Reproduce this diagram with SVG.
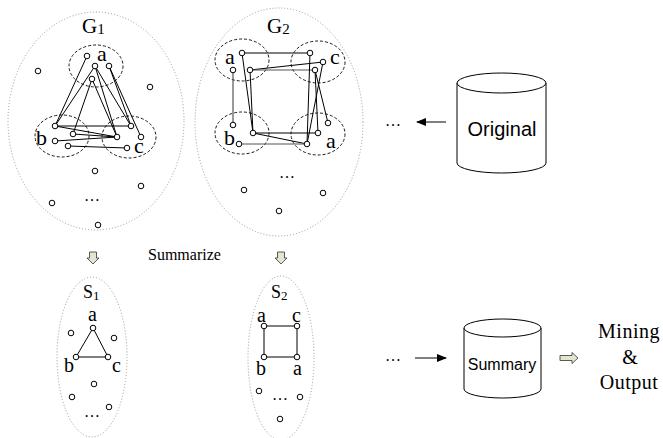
<svg xmlns="http://www.w3.org/2000/svg" width="663" height="438" viewBox="0 0 663 438">
<defs>
<style>
.dot{fill:none;stroke:#999;stroke-width:1;stroke-dasharray:1,2}
.dash{fill:none;stroke:#000;stroke-width:0.9;stroke-dasharray:3,2}
.n{fill:#fff;stroke:#000;stroke-width:1}
.e{stroke:#000;stroke-width:1;fill:none}
.eg{stroke:#555;stroke-width:1.2;fill:none}
.t{font-family:"Liberation Serif","Times New Roman",serif;fill:#000}
.s{font-family:"Liberation Sans",Arial,sans-serif;fill:#000}
.cyl{fill:#fff;stroke:#000;stroke-width:1}
.hol{fill:#e2e6d0;stroke:#333;stroke-width:0.8}
</style>
<marker id="ah" markerWidth="10" markerHeight="8" refX="9" refY="4" orient="auto" markerUnits="userSpaceOnUse">
<path d="M0,0 L10,4 L0,8 Z" fill="#000"/>
</marker>
</defs>
<rect width="663" height="438" fill="#fff"/>

<g id="G1">
<ellipse class="dot" cx="96" cy="121" rx="88" ry="109"/>
<text class="t" x="82" y="33" font-size="21">G<tspan font-size="15" dy="1">1</tspan></text>
<ellipse class="dash" cx="96" cy="66" rx="27" ry="21"/>
<ellipse class="dash" cx="62" cy="136" rx="27" ry="21"/>
<ellipse class="dash" cx="129" cy="137" rx="27" ry="21"/>
<text class="t" x="97" y="61" font-size="22">a</text>
<text class="t" x="36" y="145" font-size="22">b</text>
<text class="t" x="134" y="153" font-size="22">c</text>
<g>
<line class="e" x1="87" y1="56" x2="55" y2="126"/>
<line class="e" x1="95" y1="66" x2="55" y2="126"/>
<line class="e" x1="95" y1="66" x2="131" y2="126"/>
<line class="e" x1="95" y1="66" x2="117" y2="137"/>
<line class="e" x1="109" y1="66" x2="131" y2="126"/>
<line class="e" x1="109" y1="66" x2="141" y2="137"/>
<line class="e" x1="92" y1="79" x2="73" y2="134"/>
<line class="e" x1="92" y1="79" x2="117" y2="137"/>
<line class="e" x1="55" y1="126" x2="131" y2="126"/>
<line class="e" x1="55" y1="126" x2="117" y2="137"/>
<line class="e" x1="73" y1="134" x2="117" y2="137"/>
<line class="e" x1="55" y1="141" x2="117" y2="137"/>
<line class="e" x1="68" y1="146" x2="127" y2="148"/>
</g>
<circle class="n" cx="87" cy="56" r="2.8"/>
<circle class="n" cx="95" cy="66" r="2.8"/>
<circle class="n" cx="109" cy="66" r="2.8"/>
<circle class="n" cx="92" cy="79" r="2.8"/>
<circle class="n" cx="55" cy="126" r="2.8"/>
<circle class="n" cx="131" cy="126" r="2.8"/>
<circle class="n" cx="73" cy="134" r="2.8"/>
<circle class="n" cx="117" cy="137" r="2.8"/>
<circle class="n" cx="141" cy="137" r="2.8"/>
<circle class="n" cx="55" cy="141" r="2.8"/>
<circle class="n" cx="68" cy="146" r="2.8"/>
<circle class="n" cx="127" cy="148" r="2.8"/>
<circle class="n" cx="38" cy="71" r="2.8"/>
<circle class="n" cx="150" cy="87" r="2.8"/>
<circle class="n" cx="95" cy="171" r="2.8"/>
<circle class="n" cx="141" cy="186" r="2.8"/>
<circle class="n" cx="52" cy="203" r="2.8"/>
<circle class="n" cx="98" cy="225" r="2.8"/>
<text class="t" x="92" y="201" font-size="16" text-anchor="middle">…</text>
</g>

<g id="G2">
<ellipse class="dot" cx="279" cy="122" rx="84" ry="114"/>
<text class="t" x="267" y="33" font-size="21">G<tspan font-size="15" dy="1">2</tspan></text>
<ellipse class="dash" cx="242" cy="60" rx="27" ry="21"/>
<ellipse class="dash" cx="318" cy="62" rx="27" ry="21"/>
<ellipse class="dash" cx="242" cy="133" rx="27" ry="21"/>
<ellipse class="dash" cx="318" cy="134" rx="27" ry="21"/>
<text class="t" x="225" y="64" font-size="22">a</text>
<text class="t" x="330" y="64" font-size="22">c</text>
<text class="t" x="224" y="145" font-size="22">b</text>
<text class="t" x="326" y="148" font-size="22">a</text>
<g>
<line class="e" x1="242" y1="53" x2="310" y2="53"/>
<line class="e" x1="242" y1="53" x2="253" y2="133"/>
<line class="eg" x1="233" y1="70" x2="233" y2="125"/>
<line class="e" x1="250" y1="70" x2="323" y2="62"/>
<line class="eg" x1="250" y1="70" x2="315" y2="70"/>
<line class="e" x1="250" y1="70" x2="253" y2="133"/>
<line class="e" x1="310" y1="53" x2="307" y2="144"/>
<line class="e" x1="323" y1="62" x2="307" y2="144"/>
<line class="e" x1="315" y1="70" x2="318" y2="133"/>
<line class="e" x1="315" y1="70" x2="328" y2="123"/>
<line class="e" x1="253" y1="133" x2="318" y2="133"/>
<line class="e" x1="253" y1="133" x2="307" y2="144"/>
<line class="eg" x1="239" y1="144" x2="307" y2="144"/>
</g>
<circle class="n" cx="242" cy="53" r="2.8"/>
<circle class="n" cx="233" cy="70" r="2.8"/>
<circle class="n" cx="250" cy="70" r="2.8"/>
<circle class="n" cx="310" cy="53" r="2.8"/>
<circle class="n" cx="323" cy="62" r="2.8"/>
<circle class="n" cx="315" cy="70" r="2.8"/>
<circle class="n" cx="233" cy="125" r="2.8"/>
<circle class="n" cx="253" cy="133" r="2.8"/>
<circle class="n" cx="239" cy="144" r="2.8"/>
<circle class="n" cx="328" cy="123" r="2.8"/>
<circle class="n" cx="318" cy="133" r="2.8"/>
<circle class="n" cx="307" cy="144" r="2.8"/>
<circle class="n" cx="244" cy="190" r="2.8"/>
<circle class="n" cx="323" cy="193" r="2.8"/>
<circle class="n" cx="279" cy="211" r="2.8"/>
<text class="t" x="287" y="178" font-size="16" text-anchor="middle">…</text>
</g>

<g id="S1">
<ellipse class="dot" cx="92" cy="357" rx="35" ry="80"/>
<text class="t" x="83" y="298" font-size="18">S<tspan font-size="13" dy="2">1</tspan></text>
<text class="t" x="88" y="321" font-size="20">a</text>
<text class="t" x="64" y="372" font-size="20">b</text>
<text class="t" x="112" y="372" font-size="20">c</text>
<path class="e" d="M93,328 L76,357 L108,357 Z"/>
<circle class="n" cx="93" cy="328" r="2.8"/>
<circle class="n" cx="76" cy="357" r="2.8"/>
<circle class="n" cx="108" cy="357" r="2.8"/>
<circle class="n" cx="71" cy="333" r="2.8"/>
<circle class="n" cx="114" cy="338" r="2.8"/>
<circle class="n" cx="94" cy="384" r="2.8"/>
<circle class="n" cx="72" cy="397" r="2.8"/>
<circle class="n" cx="109" cy="407" r="2.8"/>
<text class="t" x="92" y="417" font-size="16" text-anchor="middle">…</text>
</g>

<g id="S2">
<ellipse class="dot" cx="281" cy="358" rx="33" ry="82"/>
<text class="t" x="271" y="298" font-size="18">S<tspan font-size="13" dy="2">2</tspan></text>
<text class="t" x="257" y="322" font-size="20">a</text>
<text class="t" x="292" y="322" font-size="20">c</text>
<text class="t" x="256" y="375" font-size="20">b</text>
<text class="t" x="293" y="375" font-size="20">a</text>
<rect class="e" x="264" y="326" width="33" height="31"/>
<circle class="n" cx="264" cy="326" r="2.8"/>
<circle class="n" cx="297" cy="326" r="2.8"/>
<circle class="n" cx="264" cy="357" r="2.8"/>
<circle class="n" cx="297" cy="357" r="2.8"/>
<circle class="n" cx="259" cy="391" r="2.8"/>
<circle class="n" cx="300" cy="397" r="2.8"/>
<circle class="n" cx="280" cy="419" r="2.8"/>
<text class="t" x="280" y="400" font-size="16" text-anchor="middle">…</text>
</g>

<g id="original">
<path class="cyl" d="M457,83 V163 A44.5,10 0 0 0 546,163 V83"/>
<ellipse class="cyl" cx="501.5" cy="83" rx="44.5" ry="10"/>
<text class="s" x="502" y="136" font-size="20" text-anchor="middle">Original</text>
</g>

<g id="summary">
<path class="cyl" d="M464,328 V389 A38.5,9 0 0 0 541,389 V328"/>
<ellipse class="cyl" cx="502.5" cy="328" rx="38.5" ry="9"/>
<text class="s" x="502" y="370" font-size="16" text-anchor="middle">Summary</text>
</g>

<g id="mining">
<text class="t" x="629" y="338" font-size="20" text-anchor="middle" letter-spacing="0.5">Mining</text>
<text class="t" x="630" y="364" font-size="20" text-anchor="middle">&amp;</text>
<text class="t" x="629" y="389" font-size="20" text-anchor="middle" letter-spacing="0.5">Output</text>
</g>

<g id="connectors">
<path class="hol" d="M89.5,252 H96.5 V258 H99 L93,264 L87,258 H89.5 Z"/>
<path class="hol" d="M277.5,252 H284.5 V258 H287 L281,264 L275,258 H277.5 Z"/>
<text class="t" x="148" y="260" font-size="16">Summarize</text>
<text class="t" x="393" y="126" font-size="16" text-anchor="middle">…</text>
<line class="e" x1="446" y1="122" x2="417" y2="122" marker-end="url(#ah)"/>
<text class="t" x="393" y="361" font-size="16" text-anchor="middle">…</text>
<line class="e" x1="415" y1="358" x2="446" y2="358" marker-end="url(#ah)"/>
<path class="hol" d="M560,355.5 H572 V352.5 L578,358 L572,363.5 V360.5 H560 Z"/>
</g>
</svg>
